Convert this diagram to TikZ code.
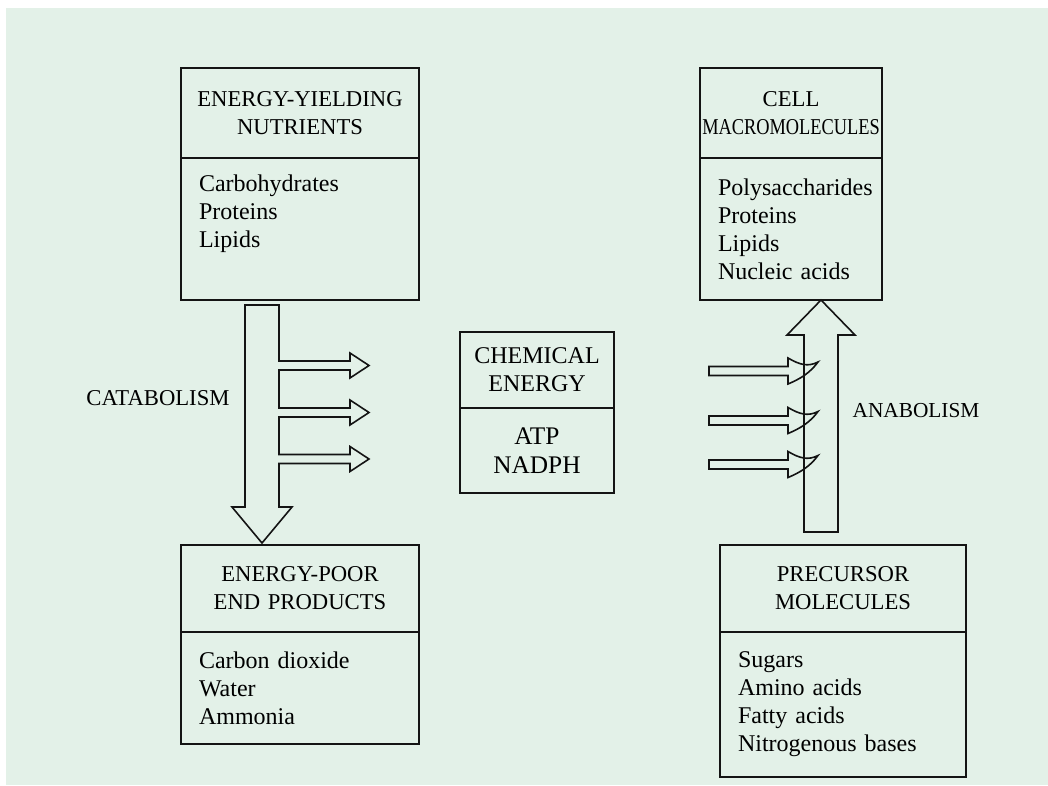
\documentclass[tikz,border=0pt]{standalone}
\usepackage{fontspec}
\setmainfont{Liberation Serif}
\usepackage{xcolor}
\usepackage{tikz}
\usetikzlibrary{positioning, calc}
\definecolor{PanelGreen}{RGB}{227, 241, 232}
\definecolor{LineDark}{RGB}{20, 20, 20}

\tikzset{
  headbox/.style={draw=LineDark, line width=1.5pt, align=center, inner sep=0pt,
    outer sep=0pt, anchor=north, font=\fontsize{17}{21}\selectfont},
  listbox/.style={draw=LineDark, line width=1.5pt, align=left, inner xsep=13.5pt,
    inner ysep=0pt, outer sep=0pt, font=\fontsize{18}{21}\selectfont},
  blockarrow/.style={draw=LineDark, line width=1.2pt, line join=miter},
  processlabel/.style={font=\fontsize{16.5}{20}\selectfont}
}

\begin{document}
\begin{tikzpicture}[x=0.75pt, y=-0.75pt]
    \useasboundingbox (0,0) rectangle (1048,785);
    \fill[PanelGreen] (6,8) rectangle (1048,785);

    % nutrients (top left)
    \node[headbox, text width=178.5pt, minimum height=67.5pt] (nutrhead) at (300,68)
      {ENERGY-YIELDING\\NUTRIENTS};
    \node[listbox, below=0pt of nutrhead, text width=151.5pt, minimum height=106.5pt] (nutrlist)
      {Carbohydrates\\Proteins\\Lipids\\\strut};

    % macromolecules (top right)
    \node[headbox, text width=136.5pt, minimum height=67.5pt] (macrohead) at (791,68)
      {CELL\\\scalebox{0.81}[1]{MACROMOLECULES}};
    \node[listbox, below=0pt of macrohead, text width=109.5pt, minimum height=106.5pt] (macrolist)
      {Polysaccharides\\Proteins\\Lipids\\Nucleic acids};

    % energy carriers (middle)
    \node[headbox, text width=115.5pt, minimum height=57pt,
      font=\fontsize{18}{21}\selectfont] (chemhead) at (537,332)
      {CHEMICAL\\ENERGY};
    \node[listbox, below=0pt of chemhead, align=center, inner xsep=0pt, text width=115.5pt,
      minimum height=63.75pt, font=\fontsize{19}{21.5}\selectfont] (chemlist) {ATP\\NADPH};

    % end products (bottom left)
    \node[headbox, text width=178.5pt, minimum height=65.25pt] (poorhead) at (300,545)
      {ENERGY-POOR\\END PRODUCTS};
    \node[listbox, below=0pt of poorhead, text width=151.5pt, minimum height=84pt] (poorlist)
      {Carbon dioxide\\Water\\Ammonia};

    % precursors (bottom right)
    \node[headbox, text width=184.5pt, minimum height=65.25pt] (prechead) at (843,545)
      {PRECURSOR\\MOLECULES};
    \node[listbox, below=0pt of prechead, text width=157.5pt, minimum height=108.75pt] (preclist)
      {Sugars\\Amino acids\\Fatty acids\\Nitrogenous bases};

    % catabolism arrow with three side outlets
    \draw[blockarrow] (245,305) -- (279,305)
      foreach \y in {365.5,412.5,459} {
        -- (279,\y-4.5) -- (350,\y-4.5) -- (350,\y-12.5) -- (369,\y)
        -- (350,\y+12.5) -- (350,\y+4.5) -- (279,\y+4.5)
      }
      -- (279,507) -- (292,507) -- (262,543) -- (232,507) -- (245,507) -- cycle;

    % anabolism arrow
    \draw[blockarrow] (804,532) -- (804,335) -- (787,335) -- (821,300)
      -- (855,335) -- (838,335) -- (838,532) -- cycle;

    % energy fed into anabolism
    \foreach \y in {371,420.5,464.5}
      \draw[blockarrow] (709,\y-4.5) -- (788,\y-4.5) -- (788,\y-13)
        .. controls (800,\y-6) and (808,\y-4) .. (818,\y-9)
        .. controls (810,\y+2) and (800,\y+8) .. (788,\y+13)
        -- (788,\y+4.5) -- (709,\y+4.5) -- cycle;

    \node[processlabel, font=\fontsize{17}{20}\selectfont] (catalabel) at (158,398) {CATABOLISM};
    \node[processlabel, font=\fontsize{16}{20}\selectfont] (anablabel) at (916,411) {ANABOLISM};
  \end{tikzpicture}
\end{document}
